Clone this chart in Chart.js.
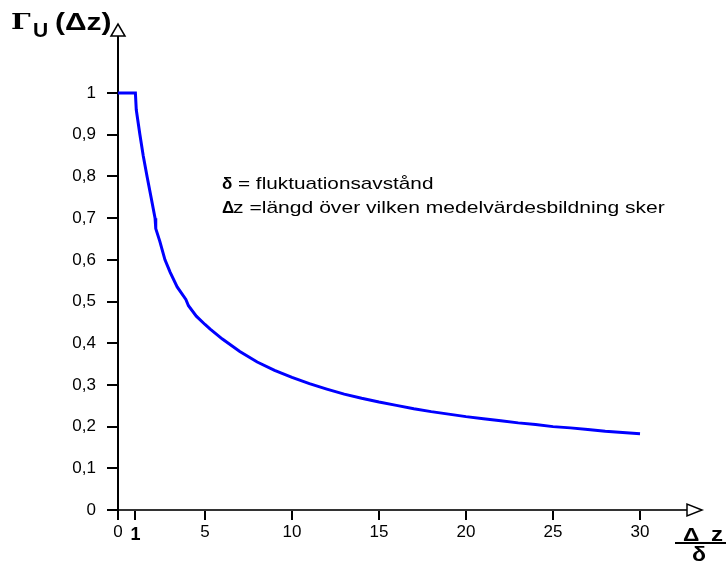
<!DOCTYPE html>
<html>
<head>
<meta charset="utf-8">
<script src="https://cdn.jsdelivr.net/npm/chart.js@4.4.1/dist/chart.umd.min.js"></script>
<style>
  html, body { margin: 0; padding: 0; background: #fff; }
  canvas { display: block; }
</style>
</head>
<body>
<canvas id="c" width="726" height="565"></canvas>
<script>
// Normalised correlation Γ_U(Δz) against averaging length Δz/δ
const xValues = [0, 1, 1.05, 1.26, 1.45, 1.67, 1.9, 2.13, 2.17, 2.4, 2.7, 3.0, 3.4, 3.9, 4.05, 4.5, 5.0, 5.3,
  6, 7, 8, 9, 10, 11, 12, 13, 14, 15, 16, 17, 18, 19, 20, 21, 22, 23, 24, 25, 26, 27, 28, 29, 30];
const yValues = [1, 1, 0.96, 0.9, 0.85, 0.8, 0.75, 0.70, 0.675, 0.645, 0.6, 0.57, 0.535, 0.505, 0.49, 0.465, 0.445, 0.434,
  0.41, 0.38, 0.355, 0.335, 0.318, 0.303, 0.29, 0.278, 0.268, 0.259, 0.251, 0.243, 0.236, 0.23, 0.224, 0.219, 0.214,
  0.209, 0.205, 0.2, 0.197, 0.193, 0.189, 0.186, 0.183];
const xTicks = [0, 1, 5, 10, 15, 20, 25, 30];
const yTicks = [0, 0.1, 0.2, 0.3, 0.4, 0.5, 0.6, 0.7, 0.8, 0.9, 1];

const points = xValues.map((x, i) => ({ x: x, y: yValues[i] }));
const SANS = '"Liberation Sans", Arial, sans-serif';
const SERIF = '"DejaVu Serif", serif';

// text drawn with a horizontal stretch, left-aligned at (x, y)
function wideText(ctx, text, x, y, font, sx) {
  ctx.save();
  ctx.font = font;
  ctx.translate(x, y);
  ctx.scale(sx, 1);
  ctx.fillText(text, 0, 0);
  ctx.restore();
}

// Arrow heads, axis titles and the explanatory note
const decorations = {
  id: 'decorations',
  afterDraw(chart) {
    const ctx = chart.ctx;
    const a = chart.chartArea;
    ctx.save();
    ctx.lineWidth = 1.5;
    ctx.strokeStyle = '#000';
    ctx.fillStyle = '#fff';
    // y arrow
    ctx.beginPath();
    ctx.moveTo(a.left - 7, a.top);
    ctx.lineTo(a.left + 7, a.top);
    ctx.lineTo(a.left, a.top - 12);
    ctx.closePath();
    ctx.fill(); ctx.stroke();
    // x arrow
    ctx.beginPath();
    ctx.moveTo(a.right, a.bottom - 6);
    ctx.lineTo(a.right, a.bottom + 6);
    ctx.lineTo(a.right + 15, a.bottom);
    ctx.closePath();
    ctx.fill(); ctx.stroke();

    ctx.fillStyle = '#000';
    ctx.textBaseline = 'alphabetic';
    ctx.textAlign = 'left';
    // y-axis title Γ_U(Δz)
    wideText(ctx, 'Γ', 11, 29, 'bold 23px ' + SERIF, 1.2);
    wideText(ctx, 'U', 33, 37, 'bold 21px ' + SANS, 1.0);
    wideText(ctx, '(Δz)', 55, 30, 'bold 24px ' + SANS, 1.25);

    // x-axis title as fraction Δz / δ
    wideText(ctx, 'Δ', 683, 541, 'bold 19px ' + SANS, 1.2);
    wideText(ctx, 'z', 711, 541, 'bold 20px ' + SANS, 1.2);
    wideText(ctx, 'δ', 692, 561, 'bold 21px ' + SANS, 1.1);
    ctx.lineWidth = 2;
    ctx.beginPath();
    ctx.moveTo(675, 543);
    ctx.lineTo(726, 543);
    ctx.stroke();

    // note
    wideText(ctx, 'δ', 222, 189, 'bold 17px ' + SANS, 1.0);
    wideText(ctx, 'Δ', 222, 213, 'bold 17px ' + SANS, 1.0);
    wideText(ctx, '= fluktuationsavstånd', 238, 189, '17px ' + SANS, 1.22);
    wideText(ctx, 'z =längd över vilken medelvärdesbildning sker', 233, 213, '17px ' + SANS, 1.24);
    ctx.restore();
  }
};

new Chart(document.getElementById('c'), {
  type: 'scatter',
  data: {
    datasets: [{
      data: points,
      showLine: true,
      borderColor: '#0000ff',
      borderWidth: 3,
      pointRadius: 0,
      tension: 0,
      fill: false
    }]
  },
  options: {
    responsive: false,
    devicePixelRatio: 1,
    animation: false,
    layout: { padding: { left: 0, top: 36, right: 39, bottom: 0 } },
    plugins: { legend: { display: false }, tooltip: { enabled: false } },
    scales: {
      x: {
        type: 'linear',
        min: 0,
        max: 32.7,
        afterBuildTicks(scale) { scale.ticks = xTicks.map(v => ({ value: v })); },
        afterFit(scale) { scale.height = 55; },
        grid: { display: true, drawOnChartArea: false, drawTicks: true, tickLength: 10, color: '#000', lineWidth: 2 },
        border: { display: true, color: '#333', width: 2 },
        ticks: {
          padding: 2,
          color: '#000',
          autoSkip: false,
          maxRotation: 0,
          font: ctx => (ctx.tick && ctx.tick.value === 1)
            ? { family: SANS, size: 18, weight: 'bold', lineHeight: 1.45 }
            : { family: SANS, size: 17, lineHeight: 1.2 },
          callback: v => String(v)
        }
      },
      y: {
        type: 'linear',
        min: 0,
        max: 1.137,
        afterBuildTicks(scale) { scale.ticks = yTicks.map(v => ({ value: v })); },
        afterFit(scale) { scale.width = 118; },
        grid: { display: true, drawOnChartArea: false, drawTicks: true, tickLength: 11, color: '#000', lineWidth: 2 },
        border: { display: true, color: '#000', width: 2 },
        ticks: {
          padding: 11,
          color: '#000',
          autoSkip: false,
          font: { family: SANS, size: 17 },
          callback: v => String(v).replace('.', ',')
        }
      }
    }
  },
  plugins: [decorations]
});
</script>
</body>
</html>
